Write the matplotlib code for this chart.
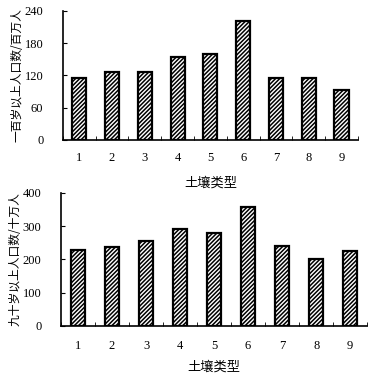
import numpy as np
import matplotlib.pyplot as plt

plt.rcParams['hatch.linewidth'] = 1.1
plt.rcParams['hatch.color'] = '#1a1a1a'

soil = ['1', '2', '3', '4', '5', '6', '7', '8', '9']
centenarians = [116, 127, 127, 155, 160, 221, 115, 116, 93]   # 百万人
nonagenarians = [227, 236, 256, 290, 278, 358, 240, 202, 224]  # 十万人

num_font = 'Liberation Serif'
cjk_font = ['Noto Sans CJK SC', 'DejaVu Sans']

fig = plt.figure(figsize=(3.72, 3.76), dpi=100)
ax1 = fig.add_axes([0.169, 0.628, 0.793, 0.343])
ax2 = fig.add_axes([0.164, 0.133, 0.823, 0.354])

x = np.arange(1, len(soil) + 1)


def draw(ax, vals, ymax, step, ylabel, width, lx, xpad, lpad):
    ax.bar(x, vals, width=width, color='white', edgecolor='black',
           linewidth=1.6, hatch='////////')
    ax.set_xlim(0.5, 9.5)
    ax.set_ylim(0, ymax)
    ax.set_yticks(np.arange(0, ymax + 1, step))
    ax.set_xticks(x)
    ax.set_xticklabels(soil)
    ax.set_xticks(np.arange(0.5, 10, 1), minor=True)
    for s in ['top', 'right']:
        ax.spines[s].set_visible(False)
    for s in ['left', 'bottom']:
        ax.spines[s].set_linewidth(1.2)
    ax.tick_params(axis='x', which='major', length=0, pad=xpad)
    ax.tick_params(axis='x', which='minor', direction='in', length=3)
    ax.tick_params(axis='y', direction='in', length=3, pad=14)
    for t in ax.get_xticklabels() + ax.get_yticklabels():
        t.set_fontfamily(num_font)
        t.set_fontsize(9)
    ax.set_xlabel('土壤类型', family=cjk_font, fontsize=9.5, labelpad=lpad)
    ax.set_ylabel(ylabel, family=cjk_font, fontsize=8.5)
    ax.yaxis.set_label_coords(lx, 0.5)


draw(ax1, centenarians, 240, 60, '一百岁以上人口数/百万人', 0.43, -0.135, 9, 9)
draw(ax2, nonagenarians, 400, 100, '九十岁以上人口数/十万人', 0.42, -0.13, 10, 6)

fig.savefig('out.png', dpi=100)
